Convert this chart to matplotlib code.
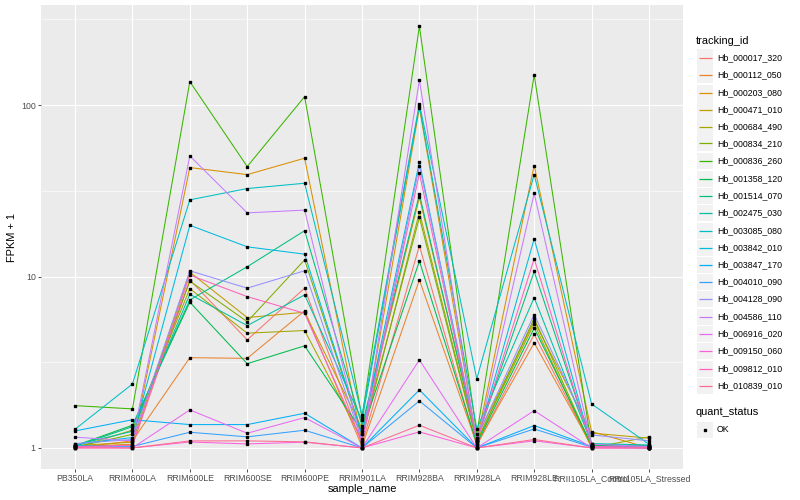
import numpy as np
import matplotlib
matplotlib.use("Agg")
import matplotlib.pyplot as plt
from matplotlib.lines import Line2D
from matplotlib.patches import Rectangle

plt.rcParams['font.family'] = ['Liberation Sans', 'DejaVu Sans']

samples = ['PB350LA', 'RRIM600LA', 'RRIM600LE', 'RRIM600SE', 'RRIM600PE', 'RRIM901LA',
           'RRIM928BA', 'RRIM928LA', 'RRIM928LE', 'RRII105LA_Control', 'RRII105LA_Stressed']

tracking_ids = ['Hb_000017_320', 'Hb_000112_050', 'Hb_000203_080', 'Hb_000471_010',
                'Hb_000684_490', 'Hb_000834_210', 'Hb_000836_260', 'Hb_001358_120',
                'Hb_001514_070', 'Hb_002475_030', 'Hb_003085_080', 'Hb_003842_010',
                'Hb_003847_170', 'Hb_004010_090', 'Hb_004128_090', 'Hb_004586_110',
                'Hb_006916_020', 'Hb_009150_060', 'Hb_009812_010', 'Hb_010839_010']

# FPKM + 1 per gene, in sample order
hb_000017_320 = [1.02, 1.03, 9.55, 4.27, 8.55, 1.05, 15.1, 1.03, 4.6, 1.02, 1.0]
hb_000112_050 = [1.0, 1.10, 3.36, 3.33, 6.3, 1.02, 9.55, 1.05, 4.1, 1.03, 1.01]
hb_000203_080 = [1.02, 1.05, 43.2, 39.3, 49.0, 1.1, 96.4, 1.1, 44.4, 1.245, 1.0]
hb_000471_010 = [1.03, 1.08, 10.6, 5.76, 6.19, 1.3, 28.9, 1.15, 5.5, 1.22, 1.14]
hb_000684_490 = [1.0, 1.27, 8.5, 4.67, 4.84, 1.12, 23.7, 1.1, 5.3, 1.0, 1.16]
hb_000834_210 = [1.01, 1.2, 9.4, 5.45, 12.5, 1.2, 22.1, 1.08, 5.7, 1.02, 1.03]
hb_000836_260 = [1.765, 1.689, 137.0, 43.8, 112.0, 1.5, 289.0, 1.2, 150.0, 1.03, 1.02]
hb_001358_120 = [1.03, 1.356, 7.08, 3.1, 3.94, 1.25, 12.3, 1.06, 5.0, 1.04, 1.0]
hb_001514_070 = [1.02, 1.33, 7.3, 11.4, 18.5, 1.35, 30.2, 1.12, 10.7, 1.05, 1.03]
hb_002475_030 = [1.04, 1.25, 7.88, 5.17, 7.81, 1.45, 99.0, 1.29, 7.53, 1.06, 1.04]
hb_003085_080 = [1.285, 2.36, 28.0, 32.6, 35.0, 1.55, 101.6, 2.53, 39.3, 1.806, 1.05]
hb_003842_010 = [1.05, 1.15, 19.9, 14.9, 13.5, 1.2, 46.6, 1.09, 16.6, 1.02, 1.02]
hb_003847_170 = [1.256, 1.46, 1.368, 1.368, 1.593, 1.0, 2.18, 1.0, 1.35, 1.02, 1.0]
hb_004010_090 = [1.03, 1.02, 1.234, 1.16, 1.268, 1.0, 1.88, 1.0, 1.29, 1.01, 1.0]
hb_004128_090 = [1.06, 1.12, 10.8, 8.55, 10.8, 1.1, 44.2, 1.15, 6.0, 1.19, 1.10]
hb_004586_110 = [1.155, 1.10, 50.5, 23.5, 24.4, 1.05, 140.0, 1.06, 30.5, 1.05, 1.02]
hb_006916_020 = [1.02, 1.0, 1.666, 1.218, 1.503, 1.0, 3.26, 1.0, 1.65, 1.0, 1.0]
hb_009150_060 = [1.0, 1.0, 1.083, 1.055, 1.08, 1.0, 1.24, 1.0, 1.10, 1.0, 1.0]
hb_009812_010 = [1.01, 1.04, 10.2, 7.63, 6.1, 1.08, 40.0, 1.1, 12.7, 1.02, 1.01]
hb_010839_010 = [1.0, 1.0, 1.099, 1.099, 1.085, 1.0, 1.356, 1.0, 1.12, 1.0, 1.0]

series = [hb_000017_320, hb_000112_050, hb_000203_080, hb_000471_010, hb_000684_490,
          hb_000834_210, hb_000836_260, hb_001358_120, hb_001514_070, hb_002475_030,
          hb_003085_080, hb_003842_010, hb_003847_170, hb_004010_090, hb_004128_090,
          hb_004586_110, hb_006916_020, hb_009150_060, hb_009812_010, hb_010839_010]

# ggplot default hue palette for 20 levels
colors = ['#F8766D', '#EA8331', '#D89000', '#C09B00', '#A3A500', '#7CAE00', '#39B600',
          '#00BB4E', '#00BF7D', '#00C1A3', '#00BFC4', '#00BAE0', '#00B0F6', '#35A2FF',
          '#9590FF', '#C77CFF', '#E76BF3', '#FA62DB', '#FF62BC', '#FF6C91']

small = 6.34   # 8.8pt at 72 dpi
big = 7.92     # 11pt at 72 dpi
W, H = 800, 500

fig = plt.figure(figsize=(8, 5), dpi=100)
ax = fig.add_axes([40.6 / W, 1 - 469 / H, (683.4 - 40.6) / W, (469 - 5) / H])
ax.set_facecolor('#EBEBEB')

x = np.arange(len(samples))
for vals, col in zip(series, colors):
    ax.plot(x, vals, color=col, lw=0.75, zorder=2)
for vals in series:
    ax.plot(x, vals, ls='none', marker='s', ms=1.8, color='black', zorder=3)

ax.set_yscale('log')
allv = np.log10(np.concatenate([np.array(s) for s in series]))
lo, hi = allv.min(), allv.max()
pad = 0.05 * (hi - lo)
ax.set_ylim(10 ** (lo - pad), 10 ** (hi + pad))
ax.set_xlim(-0.6, len(samples) - 0.4)

ax.set_yticks([1, 10, 100])
ax.set_yticklabels(['1', '10', '100'])
ax.set_yticks([10 ** 0.5, 10 ** 1.5, 10 ** 2.5], minor=True)
ax.yaxis.set_minor_formatter(plt.NullFormatter())
ax.set_xticks(x)
ax.set_xticklabels(samples)

ax.grid(True, which='major', color='white', lw=0.8, zorder=0)
ax.grid(True, which='minor', axis='y', color='white', lw=0.4, zorder=0)
ax.set_axisbelow(True)
for sp in ax.spines.values():
    sp.set_visible(False)
ax.tick_params(axis='both', which='major', length=2.0, width=0.6, color='#333333',
               labelcolor='#4D4D4D', labelsize=small, pad=1.5)
ax.tick_params(axis='y', which='minor', length=0)

ax.set_xlabel('sample_name', fontsize=big, labelpad=1)
ax.set_ylabel('FPKM + 1', fontsize=big, labelpad=3)


# legends drawn ggplot-style in figure pixel coordinates
def fx(px):
    return px / W


def fy(py):
    return 1 - py / H


key_left, key_w, key_h, step = 697, 16, 16, 17.25
fig.text(fx(696), fy(41), 'tracking_id', fontsize=big, va='center', ha='left')
for i, (name, col) in enumerate(zip(tracking_ids, colors)):
    cy = round(57 + step * i) + 0.5
    fig.add_artist(Rectangle((fx(key_left), fy(cy + key_h / 2)), key_w / W, key_h / H,
                             transform=fig.transFigure, facecolor='#F2F2F2',
                             edgecolor='none'))
    fig.add_artist(Line2D([fx(key_left + 1.5), fx(key_left + key_w - 1.5)], [fy(cy), fy(cy)],
                          transform=fig.transFigure, color=col, lw=0.9,
                          solid_capstyle='butt'))
    fig.text(fx(717), fy(cy), name, fontsize=small, va='center', ha='left')

fig.text(fx(696), fy(412), 'quant_status', fontsize=big, va='center', ha='left')
fig.add_artist(Rectangle((fx(key_left), fy(429.5 + key_h / 2)), key_w / W, key_h / H,
                         transform=fig.transFigure, facecolor='#F2F2F2', edgecolor='none'))
fig.add_artist(Line2D([fx(key_left + key_w / 2)], [fy(429.5)], transform=fig.transFigure,
                      ls='none', marker='s', ms=1.8, color='black'))
fig.text(fx(717), fy(429.5), 'OK', fontsize=small, va='center', ha='left')

fig.savefig('out.png', dpi=100)
